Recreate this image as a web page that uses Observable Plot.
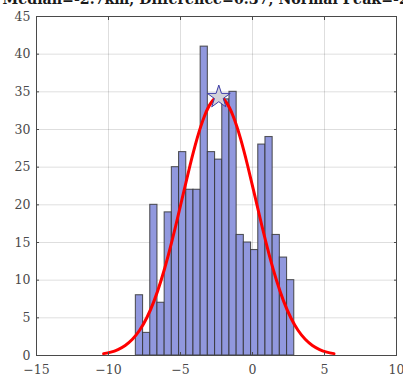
<!DOCTYPE html>
<html><head><meta charset="utf-8">
<script src="https://cdn.jsdelivr.net/npm/d3@7"></script>
<script src="https://cdn.jsdelivr.net/npm/@observablehq/plot@0.6"></script>
<style>body{margin:0;background:#fff;overflow:hidden}</style>
</head><body><div id="chart"></div>
<script>
const titleText = "Median=-2.7km, Difference=0.37, Normal Peak=-2.3km";
const binLeft = [-8.1,-7.6,-7.1,-6.6,-6.1,-5.6,-5.1,-4.6,-4.1,-3.6,-3.1,-2.6,-2.1,-1.6,-1.1,-0.6,-0.1,0.4,0.9,1.4,1.9,2.4];
const binWidth = 0.5;
const counts = [8,3,20,7,19,25,27,22,22,41,27,26,34,35,16,15,14,28,29,16,13,10];
const curveX = [-10.34,-9.84,-9.34,-8.84,-8.34,-7.84,-7.34,-6.84,-6.34,-5.84,-5.34,-4.84,-4.34,-3.84,-3.34,-2.84,-2.34,-1.84,-1.34,-0.84,-0.34,0.16,0.66,1.16,1.66,2.16,2.66,3.16,3.66,4.16,4.66,5.16,5.66];
const curveY = [0.25,0.45,0.79,1.33,2.15,3.35,5.01,7.22,10.02,13.37,17.16,21.21,25.22,28.85,31.76,33.65,34.30,33.65,31.76,28.85,25.22,21.21,17.16,13.37,10.02,7.22,5.01,3.35,2.15,1.33,0.79,0.45,0.25];
const peakX = [-2.34];
const peakY = [34.3];
const xTicks = [-15,-10,-5,0,5,10];
const yTicks = [0,5,10,15,20,25,30,35,40,45];

const bars = binLeft.map((x, i) => ({x1: x, x2: x + binWidth, y: counts[i]}));
const curve = curveX.map((x, i) => ({x, y: curveY[i]}));
const peak = peakX.map((x, i) => ({x, y: peakY[i]}));

const axisColor = "#4a4a4a";
const chart = Plot.plot({
  width: 403,
  height: 381,
  marginTop: 16,
  marginBottom: 26,
  marginLeft: 36,
  marginRight: 7,
  style: {fontFamily: "DejaVu Serif", fontSize: "12.5px", color: axisColor, background: "#fff"},
  x: {domain: [-15, 10], label: null},
  y: {domain: [0, 45], label: null},
  marks: [
    Plot.gridX(xTicks, {stroke: "#000", strokeOpacity: 0.13}),
    Plot.gridY(yTicks, {stroke: "#000", strokeOpacity: 0.13}),
    Plot.rectY(bars, {x1: "x1", x2: "x2", y: "y", fill: "#9198de", stroke: "#333", strokeOpacity: 0.8, strokeWidth: 1.1}),
    Plot.line(curve, {x: "x", y: "y", stroke: "#ff0000", strokeWidth: 3, curve: "natural"}),
    Plot.dot(peak, {x: "x", y: "y", symbol: "star", r: 7.2, fill: "#d2d2da", stroke: "#3b3ba6", strokeWidth: 1}),
    Plot.frame({stroke: axisColor, strokeWidth: 1}),
    Plot.axisX(xTicks, {anchor: "bottom", label: null, tickSize: -3, tickPadding: 13, stroke: axisColor, fill: axisColor, fontSize: 12.5}),
    Plot.axisX(xTicks, {anchor: "top", label: null, tickSize: -3, tickFormat: () => "", stroke: axisColor}),
    Plot.axisY(yTicks, {anchor: "left", label: null, tickSize: -3, tickPadding: 9, stroke: axisColor, fill: axisColor, fontSize: 12.5}),
    Plot.axisY(yTicks, {anchor: "right", label: null, tickSize: -3, tickFormat: () => "", stroke: axisColor}),
    Plot.text([titleText], {frameAnchor: "top-left", dx: -34, dy: -13, textAnchor: "start", lineAnchor: "bottom", fontWeight: "bold", fontFamily: "DejaVu Serif", fontSize: 14.2, fill: "#1a1a1a"})
  ]
});
document.getElementById("chart").appendChild(chart);
</script>
</body></html>
